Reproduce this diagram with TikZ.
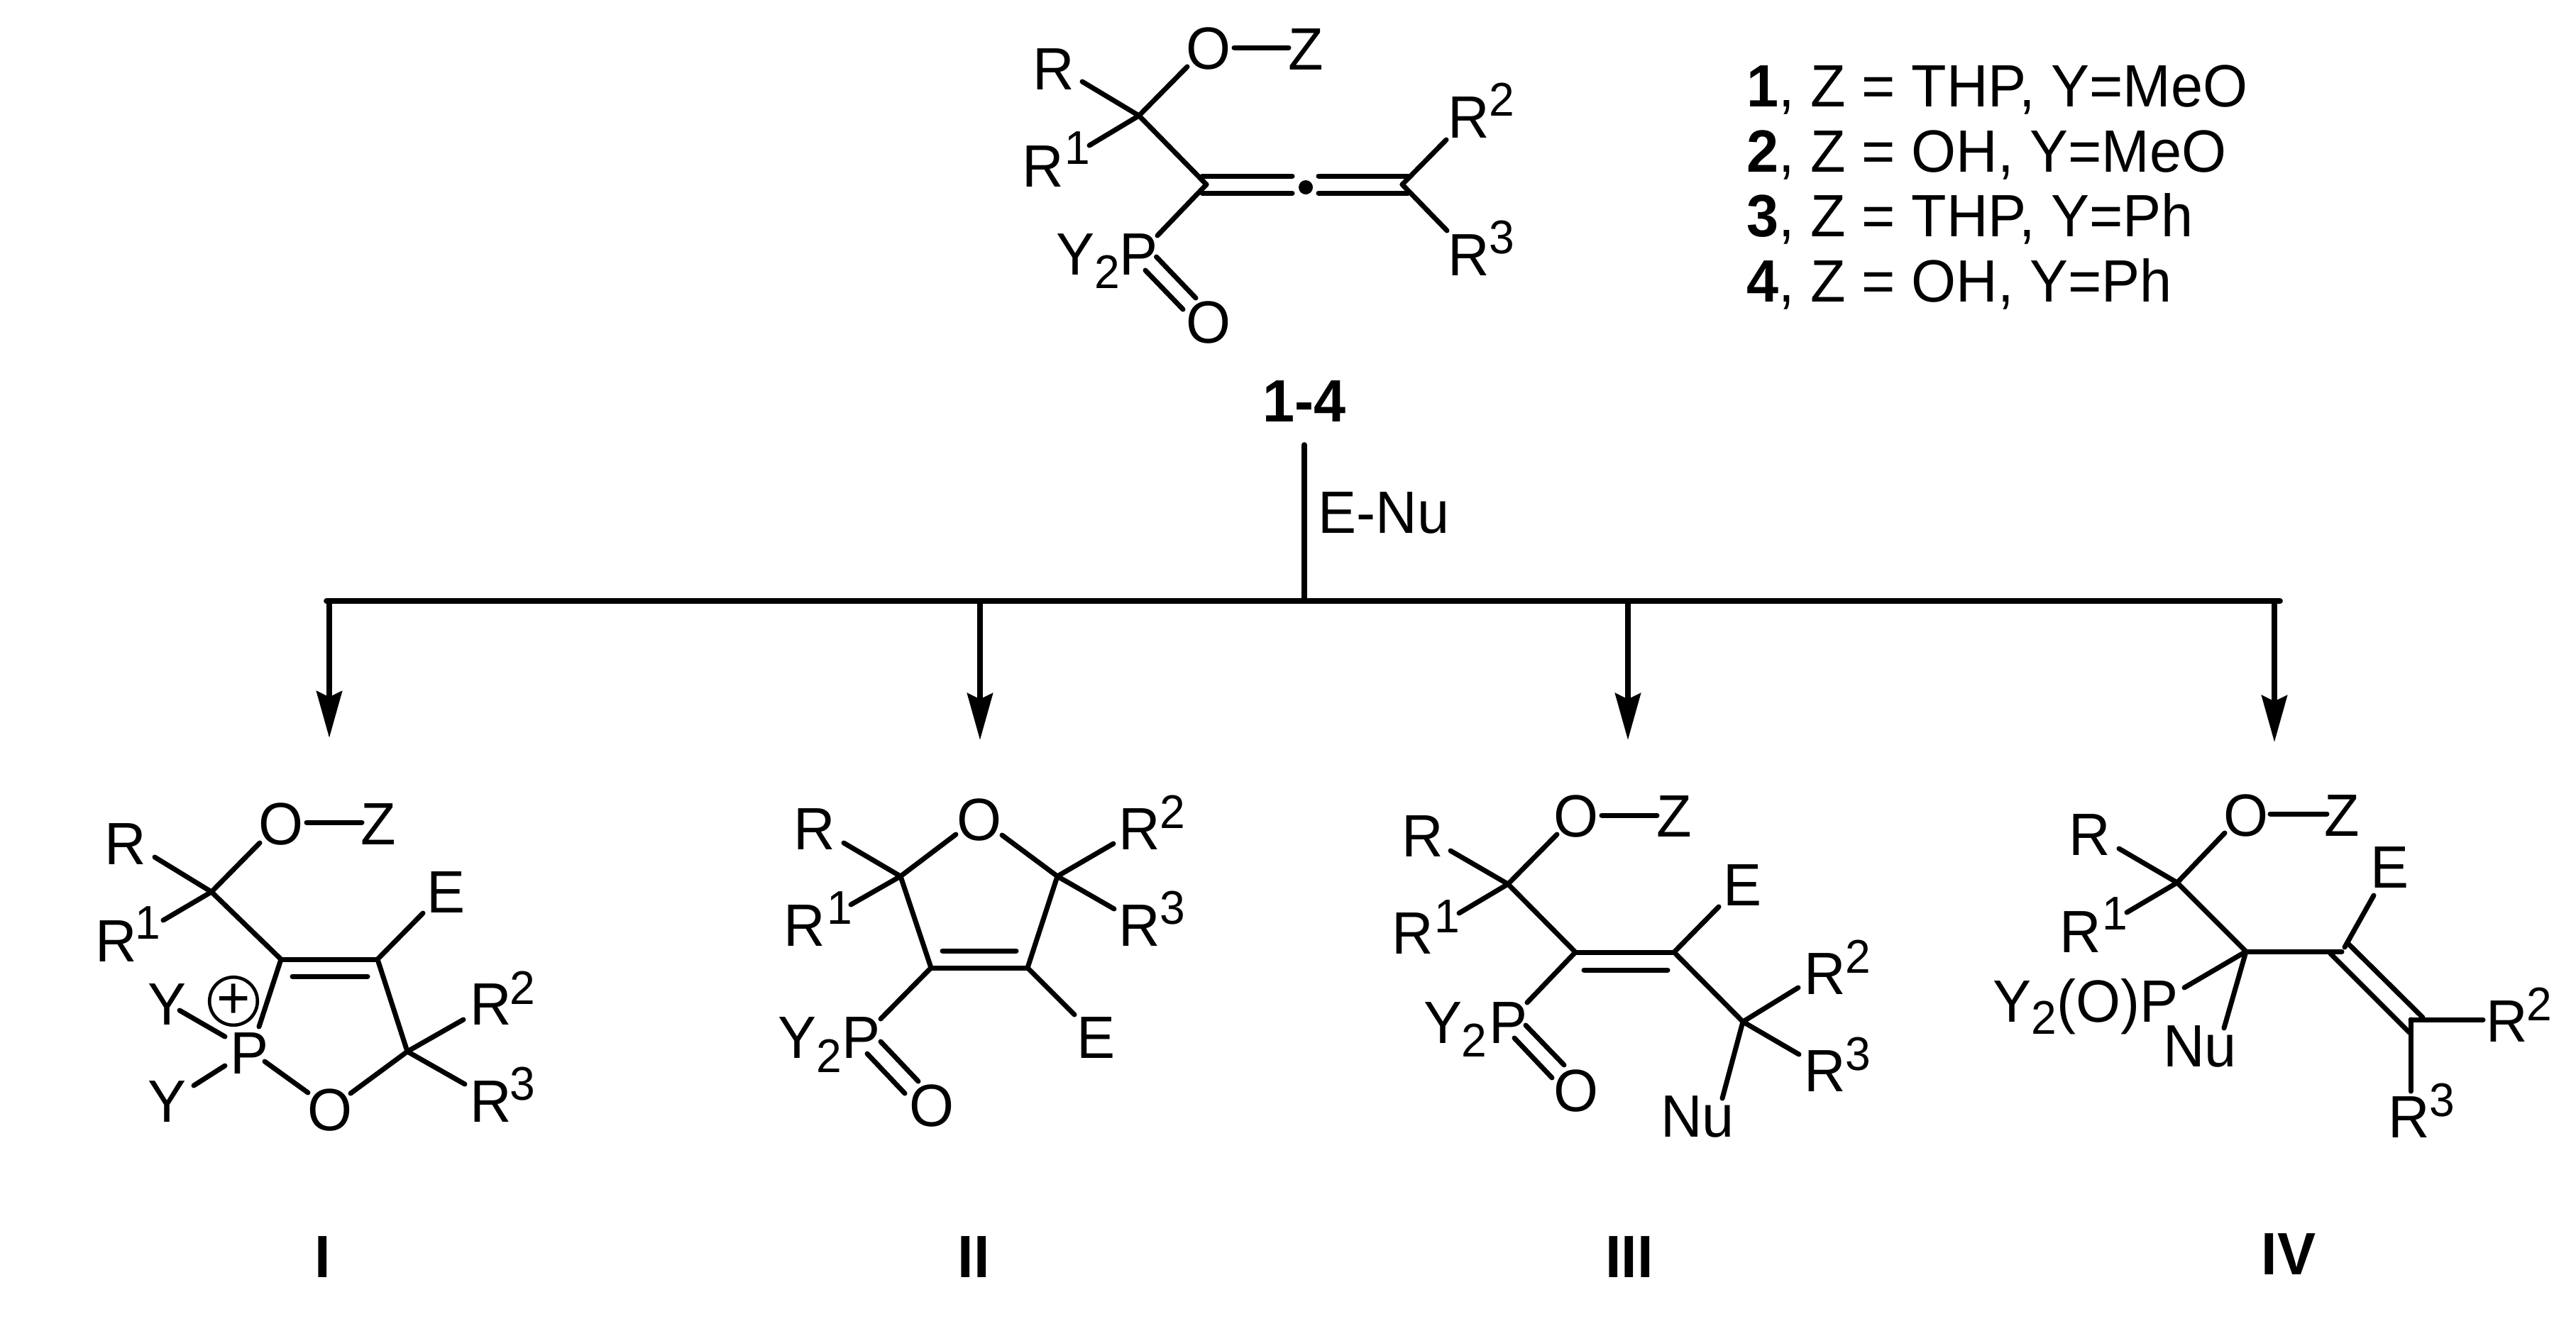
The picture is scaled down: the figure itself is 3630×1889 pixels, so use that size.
\documentclass[tikz,border=0pt]{standalone}
\usepackage{fontspec}
\setmainfont{Liberation Sans}[FakeStretch=0.963]
\usetikzlibrary{arrows.meta}
\newcommand{\bigfont}{\fontsize{20.2pt}{24pt}\selectfont}
\newcommand{\smallfont}{\fontsize{16pt}{19pt}\selectfont}
\newcommand{\subtwo}{\raisebox{-4.1pt}{\smallfont 2}}
\tikzset{
  atomlab/.style={inner sep=0pt,font=\bigfont,text=black},
  digitlab/.style={inner sep=0pt,font=\smallfont,text=black},
  legendline/.style={inner sep=0pt,anchor=base west,font=\bigfont,text=black},
  boldlab/.style={inner sep=0pt,font=\bigfont\bfseries,text=black},
  bond/.style={line width=1.68pt,line cap=round,line join=round,black},
  busline/.style={line width=1.85pt,line cap=round,black},
  branch/.style={line width=1.9pt,black,-{Stealth[length=15.8pt,width=8.6pt,inset=2pt]}},
}
\begin{document}
\begin{tikzpicture}[x=0.24pt,y=-0.24pt]
\useasboundingbox (0,0) rectangle (3630,1889);

% ---------- top structure 1-4 ----------
\coordinate (tc1) at (1605,163);
\coordinate (tc2) at (1700,260);
\coordinate (tc3) at (1976,260);
\node[atomlab] (tO) at (1703,69) {O};
\node[atomlab] (tZ) at (1840,70) {Z};
\node[atomlab] (tR) at (1485,98) {R};
\node[atomlab] (tRa) at (1470,235) {R};
\node[digitlab] (tsa) at (1518,209) {1};
\node[atomlab] (tRb) at (2070,166) {R};
\node[digitlab] (tsb) at (2116,140) {2};
\node[atomlab] (tRc) at (2070,360) {R};
\node[digitlab] (tsc) at (2116,335) {3};
\node[atomlab] (tY) at (1516,359) {Y};
\node[digitlab] (tsub) at (1560,383) {2};
\node[atomlab] (tP) at (1605,359) {P};
\node[atomlab] (tOb) at (1703,455) {O};
\node[circle,fill=black,inner sep=0pt,minimum size=4.8pt] (tdot) at (1840,264) {};
\draw[bond] (tc1) -- ([shift={(-30,25)}]tO.center);
\draw[bond] (tc1) -- ([shift={(40,17)}]tR.center);
\draw[bond] (tc1) -- ([shift={(65,-30)}]tRa.center);
\draw[bond] (tc1) -- (tc2);
\draw[bond] ([shift={(36,-2)}]tO.center) -- ([shift={(-24,-3)}]tZ.center);
\draw[bond] ([shift={(-6,-12)}]tc2) -- ([shift={(-19,-16)}]tdot.center);
\draw[bond] ([shift={(-6,12)}]tc2) -- ([shift={(-19,8)}]tdot.center);
\draw[bond] ([shift={(18,-16)}]tdot.center) -- ([shift={(8,-12)}]tc3);
\draw[bond] ([shift={(18,8)}]tdot.center) -- ([shift={(8,12)}]tc3);
\draw[bond] (tc2) -- ([shift={(26,-27)}]tP.center);
\draw[bond] (tc3) -- ([shift={(-32,31)}]tRb.center);
\draw[bond] (tc3) -- ([shift={(-31,-35)}]tRc.center);
\draw[bond] ([shift={(24.5,3)}]tP.center) -- ([shift={(-18,-35)}]tOb.center);
\draw[bond] ([shift={(9,22)}]tP.center) -- ([shift={(-36,-19)}]tOb.center);
\node[boldlab] (tname) at (1838,566) {1-4};

% ---------- legend ----------
\node[legendline] (leg1) at (2461,150) {\textbf{1}, Z = THP, Y=MeO};
\node[legendline] (leg2) at (2461,242) {\textbf{2}, Z = OH, Y=MeO};
\node[legendline] (leg3) at (2461,333) {\textbf{3}, Z = THP, Y=Ph};
\node[legendline] (leg4) at (2461,425) {\textbf{4}, Z = OH, Y=Ph};

% ---------- branching arrows ----------
\coordinate (top) at (1838,627);
\coordinate (jc) at (1838,847);
\coordinate (bl) at (460,847);
\coordinate (br) at (3213,847);
\coordinate (j1) at (464,847);
\coordinate (j2) at (1381,847);
\coordinate (j3) at (2294,847);
\coordinate (j4) at (3205,847);
\coordinate (e1) at (464,1040);
\coordinate (e2) at (1381,1043);
\coordinate (e3) at (2294,1043);
\coordinate (e4) at (3205,1046);
\draw[busline] (top) -- (jc);
\draw[busline] (bl) -- (br);
\draw[branch] (j1) -- (e1);
\draw[branch] (j2) -- (e2);
\draw[branch] (j3) -- (e3);
\draw[branch] (j4) -- (e4);
\node[legendline] (enu) at (1857,751) {E-Nu};

% ---------- structure I ----------
\coordinate (ac1) at (298,1257);
\coordinate (ac2) at (396,1352);
\coordinate (ac3) at (532,1352);
\coordinate (ac4) at (574,1482);
\node[atomlab] (aO) at (396,1162) {O};
\node[atomlab] (aZ) at (533,1162) {Z};
\node[atomlab] (aR) at (177,1190) {R};
\node[atomlab] (aRa) at (164,1327) {R};
\node[digitlab] (asa) at (208,1301) {1};
\node[atomlab] (aE) at (629,1258) {E};
\node[atomlab] (aRb) at (692,1416) {R};
\node[digitlab] (asb) at (736,1392) {2};
\node[atomlab] (aRc) at (692,1553) {R};
\node[digitlab] (asc) at (736,1528) {3};
\node[atomlab] (aP) at (352,1485) {P};
\node[atomlab] (aYa) at (236,1416) {Y};
\node[atomlab] (aYb) at (236,1553) {Y};
\node[atomlab] (aOb) at (465,1565) {O};
\node[circle,draw=black,line width=1.1pt,inner sep=0pt,minimum size=13.4pt,font=\bigfont] (aplus) at (329,1411) {+};
\draw[bond] (ac1) -- ([shift={(-30,26)}]aO.center);
\draw[bond] (ac1) -- ([shift={(41,18)}]aR.center);
\draw[bond] (ac1) -- ([shift={(66,-30)}]aRa.center);
\draw[bond] ([shift={(36,-3)}]aO.center) -- ([shift={(-23,-3)}]aZ.center);
\draw[bond] (ac1) -- (ac2);
\draw[bond] (ac2) -- (ac3);
\draw[bond] ([shift={(16,24)}]ac2) -- ([shift={(-14,24)}]ac3);
\draw[bond] (ac3) -- ([shift={(-33,29)}]aE.center);
\draw[bond] (ac3) -- (ac4);
\draw[bond] (ac4) -- ([shift={(-39,21)}]aRb.center);
\draw[bond] (ac4) -- ([shift={(-37,-25)}]aRc.center);
\draw[bond] (ac2) -- ([shift={(13,-38)}]aP.center);
\draw[bond] ([shift={(17,8)}]aYa.center) -- ([shift={(-35,-24)}]aP.center);
\draw[bond] ([shift={(37,-23)}]aYb.center) -- ([shift={(-35,17)}]aP.center);
\draw[bond] ([shift={(21,11)}]aP.center) -- ([shift={(-31,-25)}]aOb.center);
\draw[bond] ([shift={(29,-24)}]aOb.center) -- (ac4);
\node[boldlab] (aname) at (455,1772) {I};

% ---------- structure II ----------
\coordinate (bc1) at (1269,1235);
\coordinate (bc2) at (1490,1235);
\coordinate (bc3) at (1312,1364);
\coordinate (bc4) at (1448,1364);
\node[atomlab] (bO) at (1380,1156) {O};
\node[atomlab] (bR) at (1148,1169) {R};
\node[atomlab] (bRa) at (1134,1305) {R};
\node[digitlab] (bsa) at (1183,1280) {1};
\node[atomlab] (bRb) at (1606,1169) {R};
\node[digitlab] (bsb) at (1652,1144) {2};
\node[atomlab] (bRc) at (1606,1305) {R};
\node[digitlab] (bsc) at (1652,1280) {3};
\node[atomlab] (bE) at (1545,1463) {E};
\node[atomlab] (bP) at (1214,1463) {P};
\node[atomlab] (bY) at (1124,1463) {Y};
\node[digitlab] (bsub) at (1168,1488) {2};
\node[atomlab] (bOb) at (1313,1559) {O};
\draw[bond] ([shift={(-33,20)}]bO.center) -- (bc1);
\draw[bond] ([shift={(32,21)}]bO.center) -- (bc2);
\draw[bond] (bc1) -- ([shift={(41,19)}]bR.center);
\draw[bond] (bc1) -- ([shift={(65,-30)}]bRa.center);
\draw[bond] (bc2) -- ([shift={(-37,20)}]bRb.center);
\draw[bond] (bc2) -- ([shift={(-36,-24)}]bRc.center);
\draw[bond] (bc1) -- (bc3);
\draw[bond] (bc2) -- (bc4);
\draw[bond] (bc3) -- (bc4);
\draw[bond] ([shift={(16,-24)}]bc3) -- ([shift={(-16,-24)}]bc4);
\draw[bond] (bc4) -- ([shift={(-31,-33)}]bE.center);
\draw[bond] (bc3) -- ([shift={(27,-27)}]bP.center);
\draw[bond] ([shift={(27,5)}]bP.center) -- ([shift={(-19,-35)}]bOb.center);
\draw[bond] ([shift={(8,22)}]bP.center) -- ([shift={(-38,-18)}]bOb.center);
\node[boldlab] (bname) at (1372,1772) {II};

% ---------- structure III ----------
\coordinate (cc1) at (2125,1246);
\coordinate (cc2) at (2220,1342);
\coordinate (cc3) at (2359,1342);
\coordinate (cc4) at (2456,1440);
\node[atomlab] (cO) at (2221,1151) {O};
\node[atomlab] (cZ) at (2359,1151) {Z};
\node[atomlab] (cR) at (2005,1179) {R};
\node[atomlab] (cRa) at (1991,1316) {R};
\node[digitlab] (csa) at (2039,1292) {1};
\node[atomlab] (cE) at (2456,1248) {E};
\node[atomlab] (cRb) at (2572,1373) {R};
\node[digitlab] (csb) at (2618,1348) {2};
\node[atomlab] (cRc) at (2572,1510) {R};
\node[digitlab] (csc) at (2618,1486) {3};
\node[atomlab] (cNu) at (2392,1574) {Nu};
\node[atomlab] (cP) at (2126,1442) {P};
\node[atomlab] (cY) at (2034,1442) {Y};
\node[digitlab] (csub) at (2077,1466) {2};
\node[atomlab] (cOb) at (2221,1538) {O};
\draw[bond] (cc1) -- ([shift={(-27,25)}]cO.center);
\draw[bond] (cc1) -- ([shift={(39,20)}]cR.center);
\draw[bond] (cc1) -- ([shift={(65,-29)}]cRa.center);
\draw[bond] ([shift={(36,-2)}]cO.center) -- ([shift={(-24,-2)}]cZ.center);
\draw[bond] (cc1) -- (cc2);
\draw[bond] (cc2) -- (cc3);
\draw[bond] ([shift={(12,25)}]cc2) -- ([shift={(-9,25)}]cc3);
\draw[bond] (cc3) -- ([shift={(-34,30)}]cE.center);
\draw[bond] (cc3) -- (cc4);
\draw[bond] (cc4) -- ([shift={(-38,19)}]cRb.center);
\draw[bond] (cc4) -- ([shift={(-37,-24)}]cRc.center);
\draw[bond] (cc4) -- ([shift={(35,-26)}]cNu.center);
\draw[bond] (cc2) -- ([shift={(26,-29)}]cP.center);
\draw[bond] ([shift={(24,3)}]cP.center) -- ([shift={(-17,-37)}]cOb.center);
\draw[bond] ([shift={(8,21)}]cP.center) -- ([shift={(-34,-19)}]cOb.center);
\node[boldlab] (cname) at (2296,1772) {III};

% ---------- structure IV ----------
\coordinate (dc1) at (3068,1244);
\coordinate (dc2) at (3165,1341);
\coordinate (dc3) at (3300,1341);
\coordinate (dc4) at (3397,1437);
\node[atomlab] (dO) at (3165,1150) {O};
\node[atomlab] (dZ) at (3300,1150) {Z};
\node[atomlab] (dR) at (2945,1177) {R};
\node[atomlab] (dRa) at (2932,1314) {R};
\node[digitlab] (dsa) at (2980,1288) {1};
\node[atomlab] (dE) at (3368,1223) {E};
\node[atomlab] (dRb) at (3533,1440) {R};
\node[digitlab] (dsb) at (3578,1415) {2};
\node[atomlab] (dRc) at (3395,1575) {R};
\node[digitlab] (dsc) at (3441,1551) {3};
\node[atomlab] (dNu) at (3100,1475) {Nu};
\node[legendline] (dYP) at (2808,1440) {Y\subtwo(O)P};
\draw[bond] (dc1) -- ([shift={(-30,24)}]dO.center);
\draw[bond] (dc1) -- ([shift={(41,19)}]dR.center);
\draw[bond] (dc1) -- ([shift={(65,-28)}]dRa.center);
\draw[bond] ([shift={(34,-3)}]dO.center) -- ([shift={(-21,-3)}]dZ.center);
\draw[bond] (dc1) -- (dc2);
\draw[bond] (dc2) -- (dc3);
\draw[bond] ([shift={(4,-6)}]dc3) -- ([shift={(-23,39)}]dE.center);
\draw[bond] ([shift={(8,-12)}]dc3) -- ([shift={(17,-3)}]dc4);
\draw[bond] ([shift={(-16,3)}]dc3) -- ([shift={(-2,18)}]dc4);
\draw[bond] (dc4) -- ([shift={(-34,-3)}]dRb.center);
\draw[bond] (dc4) -- ([shift={(2,-37)}]dRc.center);
\draw[bond] (dc2) -- ([shift={(270,-48)}]dYP.base west);
\draw[bond] (dc2) -- ([shift={(34,-26)}]dNu.center);
\node[boldlab] (dname) at (3225,1768) {IV};
\end{tikzpicture}
\end{document}
